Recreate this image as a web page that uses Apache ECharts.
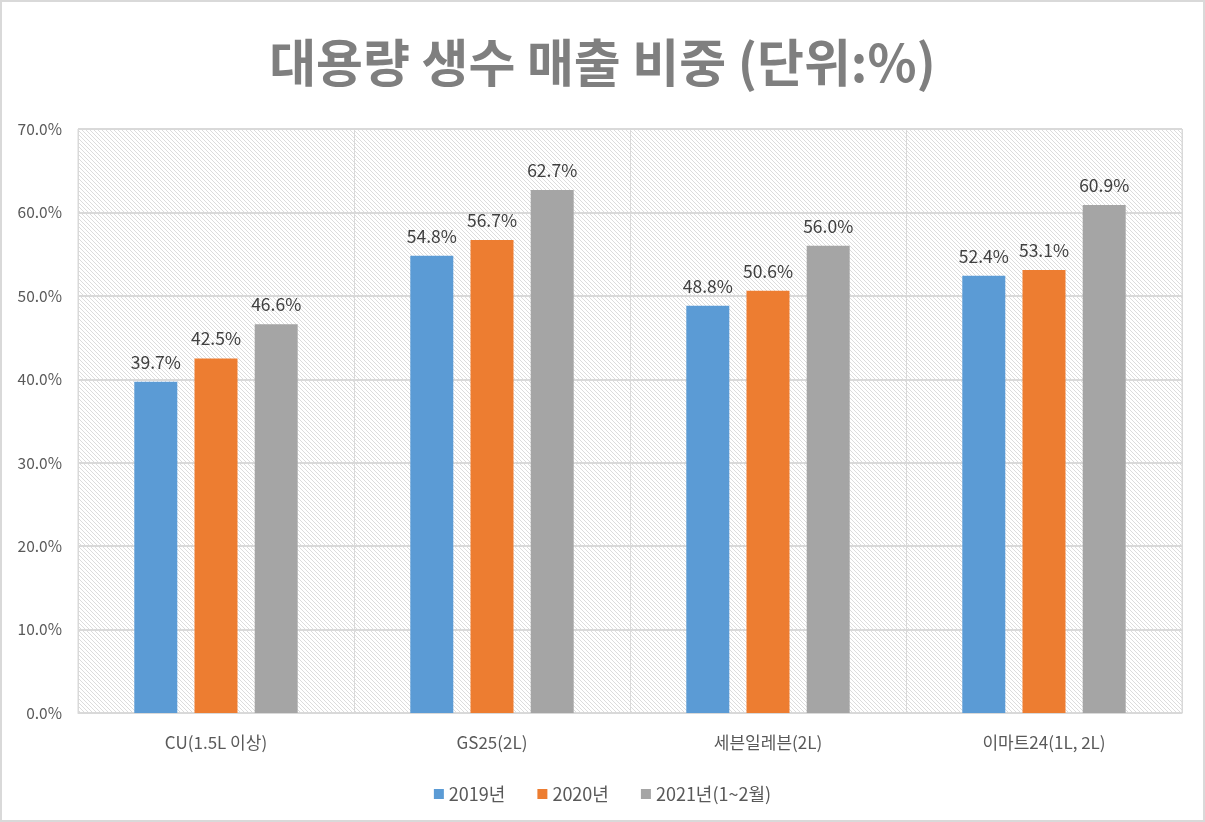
<!DOCTYPE html>
<html><head><meta charset="utf-8">
<script src="https://cdn.jsdelivr.net/npm/echarts@6/dist/echarts.min.js"></script>
<style>html,body{margin:0;padding:0;background:#fff}#c{width:1205px;height:822px;box-sizing:border-box;border:2px solid #d9d9d9}</style>
</head><body><div id="c"></div>
<script>
const categories = ['CU(1.5L 이상)', 'GS25(2L)', '세븐일레븐(2L)', '이마트24(1L, 2L)'];
const seriesNames = ['2019년', '2020년', '2021년(1~2월)'];
const v2019 = [39.7, 54.8, 48.8, 52.4];
const v2020 = [42.5, 56.7, 50.6, 53.1];
const v2021 = [46.6, 62.7, 56.0, 60.9];
const colors = ['#5b9bd5', '#ed7d31', '#a5a5a5'];

const pc = document.createElement('canvas');
pc.width = 4; pc.height = 4;
const g = pc.getContext('2d');
g.fillStyle = '#ffffff'; g.fillRect(0,0,4,4);
g.fillStyle = '#dcdcdc';
for (let i=0;i<4;i++){ g.fillRect(i,i,1,1); }

const font = '"Noto Sans CJK KR", "Noto Sans", sans-serif';
const chart = echarts.init(document.getElementById('c'));
const mk = (name, data, i) => ({
  name, type:'bar', data, barWidth:43, barGap:'40%',
  itemStyle:{color:colors[i]},
  label:{show:true, position:'top', formatter: p => p.value.toFixed(1)+'%', color:'#404040', fontSize:17.5, fontFamily:font, distance:11}
});
chart.setOption({
  animation:false,
  textStyle:{fontFamily:font},
  title:{text:'대용량 생수 매출 비중 (단위:%)', left:'center', top:30,
    textStyle:{fontSize:51, fontWeight:'bold', color:'#7f7f7f', fontFamily:font}},
  legend:{bottom:12, left:'center', itemWidth:10, itemHeight:10, itemGap:32, icon:'rect',
    textStyle:{fontSize:18, color:'#595959', fontFamily:font}},
  grid:{left:76, right:21, top:127, bottom:107, show:true, borderWidth:1, borderColor:'#d9d9d9',
    backgroundColor:{image:pc, repeat:'repeat'}},
  xAxis:{type:'category', data:categories,
    axisLine:{show:true, lineStyle:{color:'#d9d9d9'}}, axisTick:{show:false},
    splitLine:{show:true, lineStyle:{color:'#d9d9d9', width:1}},
    axisLabel:{color:'#595959', fontSize:17, margin:21, fontFamily:font}},
  yAxis:{type:'value', min:0, max:70, interval:10,
    axisLine:{show:false}, axisTick:{show:false},
    splitLine:{lineStyle:{color:'#d9d9d9', width:2}},
    axisLabel:{formatter: v => v.toFixed(1)+'%', color:'#595959', fontSize:15.5, margin:16, fontFamily:font}},
  series:[mk(seriesNames[0], v2019, 0), mk(seriesNames[1], v2020, 1), mk(seriesNames[2], v2021, 2)]
});
</script></body></html>
